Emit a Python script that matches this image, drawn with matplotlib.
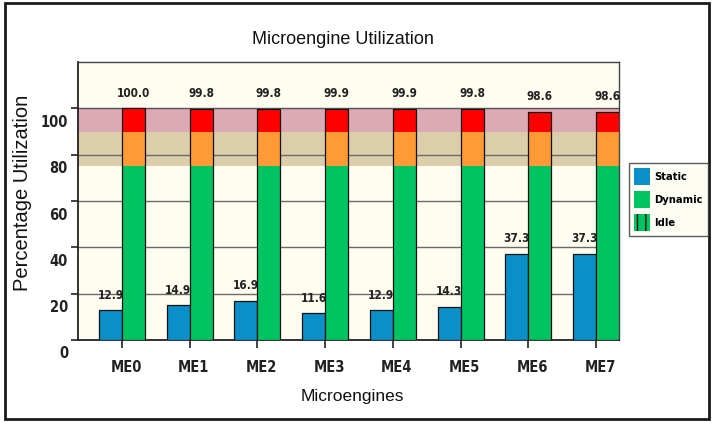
import matplotlib
matplotlib.use("Agg")
import matplotlib.pyplot as plt
from matplotlib.patches import Rectangle, Patch
from matplotlib.transforms import offset_copy
import numpy as np

engines = ["ME0", "ME1", "ME2", "ME3", "ME4", "ME5", "ME6", "ME7"]
static = [12.9, 14.9, 16.9, 11.6, 12.9, 14.3, 37.3, 37.3]
dynamic = [100.0, 99.8, 99.8, 99.9, 99.9, 99.8, 98.6, 98.6]
y_ticks = [0, 20, 40, 60, 80, 100]
legend_labels = ["Static", "Dynamic", "Idle"]

# utilization zones: green below 75, orange 75-90, red 90-100
warn_level = 75
high_level = 90
full_level = 100

narrow = ["Liberation Sans Narrow", "DejaVu Sans"]
plain = ["Liberation Sans", "DejaVu Sans"]
nfont = dict(family=narrow, fontweight="bold", fontstretch="condensed", color="#222222")

c_static = "#0a8fc8"
c_green = "#00c462"
c_orange = "#ff9a35"
c_red = "#ff0000"
c_bg = "#fefdf0"

fig = plt.figure(figsize=(7.12, 4.22), dpi=100)
fig.patch.set_facecolor("white")
ax = fig.add_axes([78 / 712, 82 / 422, 541 / 712, 278 / 422])
ax.set_facecolor(c_bg)

ax.axhspan(warn_level, high_level, color="#dccdab", lw=0, zorder=0)
ax.axhspan(high_level, full_level, color="#dca9b4", lw=0, zorder=0)
for t in y_ticks[1:]:
    ax.axhline(t, color="#6a6a6a" if t < 100 else "#555555", lw=1.0, zorder=1)

x = np.arange(len(engines))
w = 0.34

ax.bar(x - w / 2, static, width=w, color=c_static, edgecolor="#111111", lw=0.9, zorder=3)

dyn = np.array(dynamic)
g = np.minimum(dyn, warn_level)
o = np.clip(dyn - warn_level, 0, high_level - warn_level)
r = np.clip(dyn - high_level, 0, None)
ax.bar(x + w / 2, g, width=w, color=c_green, lw=0, zorder=3)
ax.bar(x + w / 2, o, width=w, bottom=g, color=c_orange, lw=0, zorder=3)
ax.bar(x + w / 2, r, width=w, bottom=g + o, color=c_red, lw=0, zorder=3)
ax.bar(x + w / 2, dyn, width=w, facecolor="none", edgecolor="#111111", lw=0.9, zorder=4)

for i in range(len(engines)):
    ax.annotate(f"{static[i]:.1f}", (x[i] - w / 2, static[i]), xytext=(0, 15),
                textcoords="offset pixels", ha="center", va="center", fontsize=8.5, **nfont)
    ax.annotate(f"{dynamic[i]:.1f}", (x[i] + w / 2, dynamic[i]), xytext=(0, 15),
                textcoords="offset pixels", ha="center", va="center", fontsize=8.5, **nfont)

ax.set_xlim(-0.65, len(engines) - 1 + w)
ax.set_ylim(0, 120)

# tick marks on the axes, labels drawn a bit below each tick
ax.set_yticks(y_ticks)
ax.set_yticklabels([])
ax.tick_params(axis="y", length=5, width=1.2, color="#222222")
ytr = offset_copy(ax.get_yaxis_transform(), fig=fig, x=-10, y=-14, units="dots")
for t in y_ticks:
    ax.text(0, t, str(t), transform=ytr, ha="right", va="center", fontsize=10.5, **nfont)

ax.set_xticks(x)
ax.set_xticklabels([])
ax.tick_params(axis="x", length=6, width=1.2, color="#222222")
xtr = offset_copy(ax.get_xaxis_transform(), fig=fig, x=4, y=-28, units="dots")
for i, name in enumerate(engines):
    ax.text(x[i], 0, name, transform=xtr, ha="center", va="center", fontsize=10.5, **nfont)

for s in ax.spines.values():
    s.set_color("#444444")
    s.set_linewidth(1.0)
ax.spines["left"].set_color("#222222")
ax.spines["bottom"].set_color("#222222")
ax.spines["left"].set_linewidth(1.3)
ax.spines["bottom"].set_linewidth(1.3)

fig.text(343 / 712, 1 - 39 / 422, "Microengine Utilization", ha="center", va="center",
         fontsize=13, family=plain, color="#111111")
fig.text(23 / 712, 1 - 193 / 422, "Percentage Utilization", ha="center", va="center",
         rotation=90, fontsize=14.5, family=plain, color="#111111")
fig.text(352 / 712, 1 - 396 / 422, "Microengines", ha="center", va="center",
         fontsize=12.5, family=plain, color="#111111")

handles = [
    Patch(facecolor=c_static, edgecolor="none"),
    Patch(facecolor=c_green, edgecolor="none"),
    Patch(facecolor=c_green, edgecolor="#111111", hatch="||", lw=0),
]
leg = fig.legend(handles, legend_labels, loc="upper left",
                 bbox_to_anchor=(629 / 712, 1 - 163 / 422),
                 prop={"family": narrow, "weight": "bold", "size": 8, "stretch": "condensed"},
                 frameon=True, fancybox=False, handlelength=1.4, handleheight=1.95,
                 handletextpad=0.4, labelspacing=0.55, borderpad=0.45, borderaxespad=0)
leg.get_frame().set_facecolor(c_bg)
leg.get_frame().set_edgecolor("#333333")
leg.get_frame().set_linewidth(1.0)

fig.patches.append(Rectangle((5 / 712, 3 / 422), 704 / 712, 416 / 422,
                             transform=fig.transFigure, fill=False,
                             lw=2, ec="#1a1a1a"))

fig.savefig("out.png", dpi=100)
